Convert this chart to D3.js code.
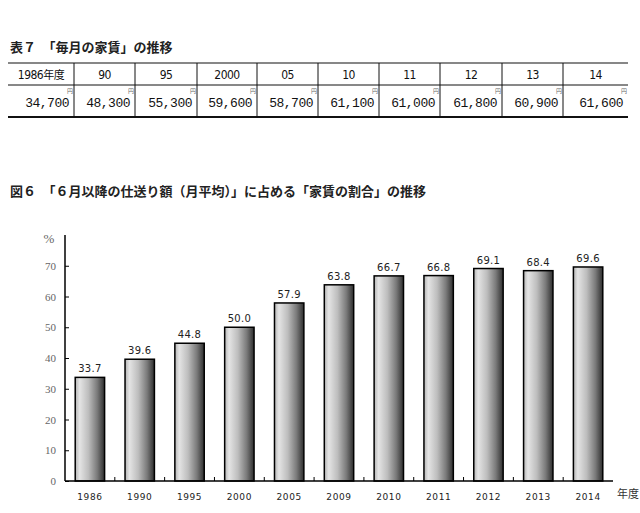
<!DOCTYPE html>
<html><head><meta charset="utf-8">
<script src="https://cdn.jsdelivr.net/npm/d3@7/dist/d3.min.js"></script>
<style>body{margin:0;background:#fff}svg{display:block}</style>
</head><body><svg id="c" width="640" height="513"></svg>
<script>
const tableYears = ["1986年度","90","95","2000","05","10","11","12","13","14"];
const rentValues = ["34,700","48,300","55,300","59,600","58,700","61,100","61,000","61,800","60,900","61,600"];
const chartYears = ["1986","1990","1995","2000","2005","2009","2010","2011","2012","2013","2014"];
const shareValues = [33.7,39.6,44.8,50.0,57.9,63.8,66.7,66.8,69.1,68.4,69.6];
const yTicks = [0,10,20,30,40,50,60,70];

const svg = d3.select("#c");
const jp = "'Noto Sans CJK JP', sans-serif";

// titles
svg.append("text").attr("x",10).attr("y",52).attr("font-family",jp).attr("font-size",13).attr("font-weight","bold").attr("fill","#222")
  .text("表７　「毎月の家賃」の推移");
svg.append("text").attr("x",10).attr("y",196).attr("font-family",jp).attr("font-size",13).attr("font-weight","bold").attr("fill","#222")
  .text("図６　「６月以降の仕送り額（月平均）」に占める「家賃の割合」の推移");

// table
const colEdges = [8,74,135,197,257,318,379,440,502,563,628];
const tTop=63, tMid=85, tBot=117;
const tg = svg.append("g");
tg.append("line").attr("x1",8).attr("x2",628).attr("y1",tTop).attr("y2",tTop).attr("stroke","#111").attr("stroke-width",1.2);
tg.append("line").attr("x1",8).attr("x2",628).attr("y1",tMid).attr("y2",tMid).attr("stroke","#111").attr("stroke-width",1);
tg.append("line").attr("x1",8).attr("x2",628).attr("y1",tBot).attr("y2",tBot).attr("stroke","#111").attr("stroke-width",2);
colEdges.slice(1,-1).forEach(x=>{
  tg.append("line").attr("x1",x).attr("x2",x).attr("y1",tTop).attr("y2",tBot).attr("stroke","#111").attr("stroke-width",1);
});
tableYears.forEach((t,i)=>{
  const x0=colEdges[i], x1=colEdges[i+1];
  tg.append("text").attr("x",(x0+x1)/2).attr("y",79).attr("text-anchor","middle")
    .attr("font-family","'DejaVu Sans Condensed','Liberation Sans Narrow',sans-serif").attr("font-size",12).attr("fill","#111")
    .attr("letter-spacing",-0.5)
    .text(t.replace("年度","")).append("tspan").attr("font-family",jp).attr("font-size",11).text(t.includes("年度")?"年度":"");
  tg.append("text").attr("x",x1-5).attr("y",107).attr("text-anchor","end")
    .attr("font-family","'Liberation Mono','DejaVu Sans Mono',monospace").attr("font-size",13).attr("fill","#111")
    .attr("letter-spacing",-0.5).text(rentValues[i]);
  tg.append("text").attr("x",x1-1).attr("y",93).attr("text-anchor","end")
    .attr("font-family",jp).attr("font-size",6).attr("fill","#666").text("円");
});

// chart
const x = d3.scaleBand().domain(chartYears).range([65,613]).paddingInner(0.41).paddingOuter(0.205);
const y = d3.scaleLinear().domain([0,80]).range([481,235]);

const defs = svg.append("defs");
const grad = defs.append("linearGradient").attr("id","bg").attr("x1","0").attr("x2","1").attr("y1","0").attr("y2","0");
[[0,"#b4b4b4"],[0.15,"#e4e4e4"],[0.45,"#bdbdbd"],[0.75,"#7a7a7a"],[1,"#2e2e2e"]].forEach(([o,c])=>
  grad.append("stop").attr("offset",o).attr("stop-color",c));

svg.selectAll("rect.bar").data(shareValues).join("rect").attr("class","bar")
  .attr("x",(d,i)=>x(chartYears[i])).attr("width",x.bandwidth())
  .attr("y",d=>y(d)).attr("height",d=>y(0)-y(d))
  .attr("fill","url(#bg)").attr("stroke","#000").attr("stroke-width",1.5);

svg.selectAll("text.val").data(shareValues).join("text").attr("class","val")
  .attr("x",(d,i)=>x(chartYears[i])+x.bandwidth()/2).attr("y",d=>y(d)-5)
  .attr("text-anchor","middle").attr("font-family","'DejaVu Sans',sans-serif").attr("font-size",10).attr("fill","#222")
  .attr("letter-spacing",0.3)
  .text(d=>d.toFixed(1));

// y axis
const yAxis = d3.axisLeft(y).tickValues(yTicks).tickSize(-4).tickPadding(9);
const ya = svg.append("g").attr("transform","translate(65,0)").call(yAxis);
ya.select(".domain").attr("d","M0,235V481").attr("stroke","#000").attr("stroke-width",1.5);
ya.selectAll(".tick line").attr("stroke","#000");
ya.selectAll(".tick text").attr("font-family","'Liberation Serif',serif").attr("font-size",11).attr("fill","#666");
svg.append("text").attr("x",49).attr("y",243).attr("text-anchor","middle").attr("font-family","'Liberation Serif',serif").attr("font-size",13).attr("fill","#666").text("%");

// x axis
const xa = svg.append("g").attr("transform","translate(0,481)").call(d3.axisBottom(x).tickSize(0).tickPadding(13));
xa.select(".domain").attr("d","M65,0H613").attr("stroke","#000").attr("stroke-width",1.5);
xa.selectAll(".tick text").attr("font-family","'DejaVu Sans',sans-serif").attr("font-size",9).attr("fill","#222").attr("letter-spacing",0.6);
// band separator ticks
const sepIdx = d3.range(1, chartYears.length);
svg.selectAll("line.sep").data(sepIdx).join("line").attr("class","sep")
  .attr("x1",i=>x(chartYears[i])-x.step()*x.paddingInner()/2).attr("x2",i=>x(chartYears[i])-x.step()*x.paddingInner()/2)
  .attr("y1",481).attr("y2",477).attr("stroke","#000").attr("stroke-width",1);
svg.append("text").attr("x",617).attr("y",498).attr("font-family",jp).attr("font-size",11).attr("fill","#333").text("年度");
</script></body></html>
